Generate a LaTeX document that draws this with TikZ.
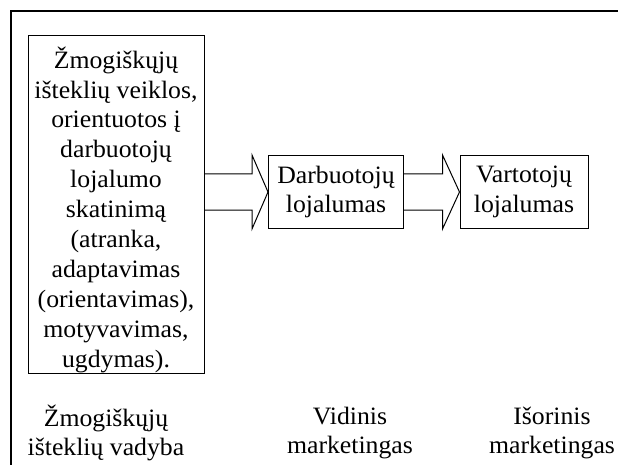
\documentclass[tikz,border=0pt]{standalone}
\usepackage{fontspec}
\setmainfont{Liberation Serif}[FakeStretch=1.03]
\usetikzlibrary{calc}
\begin{document}
\begin{tikzpicture}[x=1pt,y=-1pt,
  txt/.style={font=\fontsize{25}{29.5}\selectfont, align=center, inner sep=0pt},
  box/.style={txt, draw, line width=1pt},
  blockarrow/.style={draw, line width=1pt, line join=miter}]
\useasboundingbox (0,0) rectangle (618,465);
% outer frame (partially visible)
\draw[line width=1.6pt] (11,465) -- (11,11) -- (618,11);
% boxes
\node[box, minimum width=176, minimum height=337] (b1) at (116,204.5) {};
\node[txt, font=\fontsize{25}{29.9}\selectfont, anchor=north] (b1t) at (116,46.5)
  {Žmogiškųjų\\išteklių veiklos,\\orientuotos į\\darbuotojų\\lojalumo\\skatinimą\\(atranka,\\adaptavimas\\(orientavimas),\\motyvavimas,\\ugdymas).};
\node[box, minimum width=135, minimum height=72] (b2) at (336,192) {Darbuotojų\\lojalumas};
\node[box, minimum width=128, minimum height=72] (b3) at (524,192) {Vartotojų\\lojalumas};
% block arrows
\coordinate (a1s) at (b1.east |- b2.west);
\draw[blockarrow] ($(a1s)+(0,-18)$) -- ($(b2.west)+(-16,-18)$) -- ($(b2.west)+(-16,-37)$)
  -- (b2.west) -- ($(b2.west)+(-16,37)$) -- ($(b2.west)+(-16,18)$) -- ($(a1s)+(0,18)$);
\draw[blockarrow] ($(b2.east)+(0,-18)$) -- ($(b3.west)+(-17,-18)$) -- ($(b3.west)+(-17,-37)$)
  -- (b3.west) -- ($(b3.west)+(-17,37)$) -- ($(b3.west)+(-17,18)$) -- ($(b2.east)+(0,18)$);
% bottom labels
\node[txt] (l1) at (106,433) {Žmogiškųjų\\išteklių vadyba};
\node[txt] (l2) at (350,433) {Vidinis\\marketingas};
\node[txt] (l3) at (552,433) {Išorinis\\marketingas};
\end{tikzpicture}
\end{document}
